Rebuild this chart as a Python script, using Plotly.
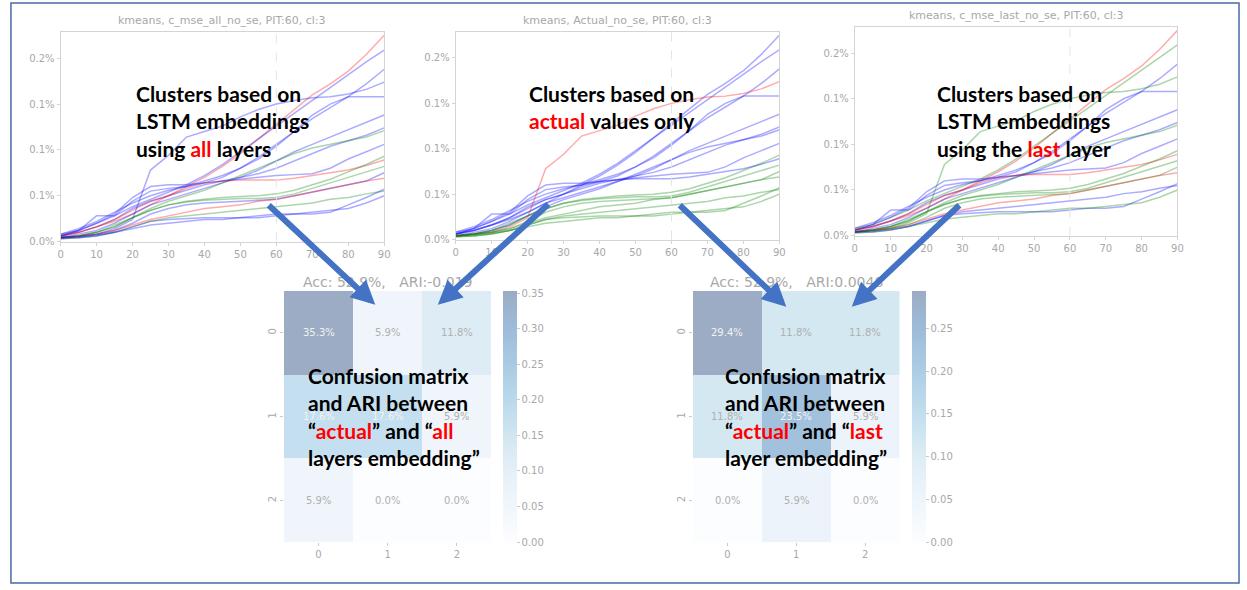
import plotly.graph_objects as go

W, H = 1247, 590

# Time axis shared by every series (days after the start)
days = [0, 5, 10, 15, 20, 25, 30, 35, 40, 45, 50, 55, 60, 65, 70, 75, 80, 85, 90]

# Cumulative values (%) for the 17 series
s_a = [0.006, 0.010, 0.016, 0.022, 0.030, 0.040, 0.050, 0.060, 0.070, 0.082, 0.096, 0.112, 0.128, 0.145, 0.160, 0.172, 0.186, 0.204, 0.225]
s_b = [0.008, 0.012, 0.020, 0.028, 0.038, 0.046, 0.054, 0.062, 0.072, 0.084, 0.098, 0.112, 0.126, 0.140, 0.154, 0.168, 0.182, 0.196, 0.209]
s_c = [0.006, 0.012, 0.028, 0.028, 0.044, 0.055, 0.058, 0.060, 0.064, 0.070, 0.080, 0.092, 0.106, 0.120, 0.134, 0.146, 0.158, 0.172, 0.188]
s_d = [0.008, 0.014, 0.022, 0.032, 0.042, 0.050, 0.056, 0.060, 0.066, 0.072, 0.080, 0.090, 0.104, 0.120, 0.138, 0.150, 0.158, 0.158, 0.158]
s_e = [0.004, 0.008, 0.012, 0.020, 0.030, 0.040, 0.046, 0.052, 0.058, 0.064, 0.070, 0.078, 0.088, 0.098, 0.106, 0.114, 0.122, 0.130, 0.138]
s_f = [0.006, 0.010, 0.016, 0.024, 0.036, 0.044, 0.050, 0.056, 0.062, 0.066, 0.070, 0.074, 0.080, 0.088, 0.096, 0.104, 0.110, 0.116, 0.124]
s_g = [0.004, 0.006, 0.010, 0.016, 0.026, 0.036, 0.044, 0.050, 0.056, 0.064, 0.072, 0.080, 0.088, 0.096, 0.102, 0.106, 0.110, 0.114, 0.121]
s_h = [0.006, 0.012, 0.020, 0.030, 0.048, 0.060, 0.062, 0.062, 0.064, 0.066, 0.068, 0.070, 0.072, 0.073, 0.074, 0.080, 0.090, 0.098, 0.106]
s_i = [0.006, 0.010, 0.016, 0.024, 0.034, 0.044, 0.050, 0.058, 0.064, 0.066, 0.067, 0.067, 0.067, 0.069, 0.072, 0.075, 0.078, 0.083, 0.089]
s_j = [0.005, 0.006, 0.008, 0.014, 0.024, 0.078, 0.094, 0.114, 0.120, 0.126, 0.136, 0.144, 0.150, 0.154, 0.157, 0.158, 0.161, 0.166, 0.174]
s_k = [0.004, 0.006, 0.010, 0.016, 0.026, 0.034, 0.040, 0.044, 0.046, 0.048, 0.049, 0.050, 0.052, 0.056, 0.062, 0.068, 0.076, 0.084, 0.093]
s_l = [0.004, 0.006, 0.010, 0.018, 0.026, 0.034, 0.040, 0.043, 0.045, 0.046, 0.047, 0.047, 0.048, 0.052, 0.058, 0.064, 0.070, 0.076, 0.082]
s_m = [0.004, 0.005, 0.008, 0.012, 0.020, 0.030, 0.036, 0.040, 0.042, 0.043, 0.044, 0.045, 0.046, 0.050, 0.054, 0.058, 0.062, 0.066, 0.075]
s_n = [0.004, 0.006, 0.008, 0.012, 0.018, 0.024, 0.028, 0.032, 0.036, 0.038, 0.040, 0.044, 0.046, 0.050, 0.054, 0.058, 0.062, 0.066, 0.069]
s_o = [0.004, 0.005, 0.007, 0.010, 0.016, 0.022, 0.024, 0.025, 0.026, 0.026, 0.026, 0.026, 0.028, 0.030, 0.030, 0.032, 0.040, 0.048, 0.057]
s_p = [0.003, 0.004, 0.006, 0.010, 0.016, 0.022, 0.026, 0.028, 0.030, 0.032, 0.034, 0.036, 0.038, 0.040, 0.042, 0.046, 0.048, 0.052, 0.055]
s_q = [0.003, 0.004, 0.006, 0.010, 0.014, 0.018, 0.020, 0.022, 0.024, 0.024, 0.026, 0.028, 0.030, 0.030, 0.032, 0.034, 0.036, 0.042, 0.050]
series = [s_a, s_b, s_c, s_d, s_e, s_f, s_g, s_h, s_i, s_j, s_k, s_l, s_m, s_n, s_o, s_p, s_q]

# Cluster id of each series under the three clusterings
labels_all    = [2, 0, 0, 0, 0, 0, 1, 0, 2, 0, 1, 1, 0, 2, 0, 1, 0]
labels_actual = [0, 0, 0, 0, 0, 0, 0, 0, 0, 2, 1, 1, 1, 1, 1, 1, 1]
labels_last   = [2, 1, 0, 0, 0, 0, 1, 0, 2, 1, 1, 1, 1, 2, 0, 0, 1]

panel_titles = ["kmeans, c_mse_all_no_se, PIT:60, cl:3",
                "kmeans, Actual_no_se, PIT:60, cl:3",
                "kmeans, c_mse_last_no_se, PIT:60, cl:3"]

y_tick_vals = [0.0, 0.05, 0.10, 0.15, 0.20]
y_tick_text = ["0.0%", "0.1%", "0.1%", "0.1%", "0.2%"]
x_tick_vals = [0, 10, 20, 30, 40, 50, 60, 70, 80, 90]

# Confusion matrices (%), rows = actual cluster, columns = embedding cluster
conf_all  = [[35.3, 5.9, 11.8], [17.6, 17.6, 5.9], [5.9, 0.0, 0.0]]
conf_last = [[29.4, 11.8, 11.8], [11.8, 23.5, 5.9], [0.0, 5.9, 0.0]]
conf_titles = ["Acc: 52.9%,   ARI:-0.019", "Acc: 52.9%,   ARI:0.0048"]
cell_ticks = ["0", "1", "2"]

CLUSTER_COLORS = ["rgba(0,0,255,0.33)", "rgba(0,128,0,0.33)", "rgba(255,0,0,0.33)"]
TXT = "#a8a8a8"


# Layout is designed on the 1247x590 pixel grid and expressed as paper fractions
def px(x):
    return x / W


def py(y):
    return 1 - y / H


# Faded matplotlib "Blues"
blues = [(247, 251, 255), (222, 235, 247), (198, 219, 239), (158, 202, 225), (107, 174, 214),
         (66, 146, 198), (33, 113, 181), (8, 81, 156), (8, 48, 107)]
alpha = 0.4
cscale = []
for i, (r, g, b) in enumerate(blues):
    f = lambda c: round(alpha * c + (1 - alpha) * 255)
    cscale.append([i / (len(blues) - 1), f"rgb({f(r)},{f(g)},{f(b)})"])

fig = go.Figure()

# Line panels: (left, right, top, bottom) in pixels
line_boxes = [(58, 384, 32, 244), (456, 782, 32, 242), (858, 1183, 27, 238)]
panel_labels = [labels_all, labels_actual, labels_last]
tick_font = dict(family="DejaVu Sans", size=10, color=TXT)

layout = {}
annotations = []
shapes = []
for p, ((l, r, t, b), labs) in enumerate(zip(line_boxes, panel_labels)):
    n = p + 1
    xa = "x" if n == 1 else f"x{n}"
    ya = "y" if n == 1 else f"y{n}"
    for s, lab in zip(series, labs):
        fig.add_trace(go.Scatter(x=days, y=s, mode="lines", xaxis=xa, yaxis=ya,
                                 line=dict(color=CLUSTER_COLORS[lab], width=1.5),
                                 showlegend=False, hoverinfo="skip"))
    common = dict(showline=True, mirror=True, linecolor="#d4d4d4", linewidth=1,
                  showgrid=False, zeroline=False, ticks="outside", ticklen=3,
                  tickcolor="#d4d4d4", tickfont=tick_font)
    layout[f"xaxis{'' if n == 1 else n}"] = dict(domain=[px(l), px(r)], anchor=ya, range=[0, 90],
                                                 tickvals=x_tick_vals, **common)
    layout[f"yaxis{'' if n == 1 else n}"] = dict(domain=[py(b), py(t)], anchor=xa, range=[0, 0.229],
                                                 tickvals=y_tick_vals, ticktext=y_tick_text, **common)
    shapes.append(dict(type="line", xref=xa, yref=f"{ya} domain", x0=60, x1=60, y0=0, y1=1,
                       line=dict(color="#e4e4e4", width=1, dash="dash")))
    annotations.append(dict(text=panel_titles[p], xref="paper", yref="paper",
                            x=px((l + r) / 2), y=py(t - 11), showarrow=False,
                            xanchor="center", yanchor="middle",
                            font=dict(family="DejaVu Sans", size=11, color=TXT)))

# Confusion-matrix heatmaps: (left, right, top, bottom, colorbar left)
heat_boxes = [(283, 492, 294, 548, 504), (695, 903, 294, 548, 916)]
for k, (mat, (l, r, t, b, cbx)) in enumerate(zip([conf_all, conf_last], heat_boxes)):
    n = 4 + k
    xa, ya = f"x{n}", f"y{n}"
    z = [[v / 100 for v in row] for row in mat]
    zmax = max(max(row) for row in z)
    cb_ticks = [v / 100 for v in range(0, 36, 5) if v / 100 <= zmax + 1e-9]
    fig.add_trace(go.Heatmap(z=z, x=[0, 1, 2], y=[0, 1, 2], xaxis=xa, yaxis=ya,
                             zmin=0, zmax=zmax, colorscale=cscale, hoverinfo="skip",
                             colorbar=dict(x=px(cbx), xanchor="left", xpad=0,
                                           y=py(t), yanchor="top", ypad=0,
                                           len=(b - t) / H, lenmode="fraction",
                                           thickness=14, thicknessmode="pixels",
                                           outlinewidth=0, ticks="outside", ticklen=3,
                                           tickcolor="#c8c8c8", tickvals=cb_ticks,
                                           ticktext=[f"{v:.2f}" for v in cb_ticks],
                                           tickfont=tick_font)))
    axc = dict(showline=False, showgrid=False, zeroline=False, ticks="outside", ticklen=3,
               tickcolor="#c8c8c8", tickfont=tick_font, tickvals=[0, 1, 2], ticktext=cell_ticks)
    layout[f"xaxis{n}"] = dict(domain=[px(l), px(r)], anchor=ya, range=[-0.5, 2.5], **axc)
    layout[f"yaxis{n}"] = dict(domain=[py(b), py(t)], anchor=xa, range=[2.5, -0.5],
                               tickangle=-90, **axc)
    for i, row in enumerate(mat):
        for j, v in enumerate(row):
            col = "#f2f2f2" if v / 100 > zmax * 0.45 else "#b0b0b0"
            annotations.append(dict(text=f"{v:.1f}%", xref=xa, yref=ya, x=j, y=i,
                                    showarrow=False,
                                    font=dict(family="DejaVu Sans", size=10, color=col)))
    annotations.append(dict(text=conf_titles[k], xref="paper", yref="paper",
                            x=px((l + r) / 2), y=py(285), showarrow=False,
                            xanchor="center", yanchor="middle",
                            font=dict(family="DejaVu Sans", size=14, color=TXT)))

RED = "<span style='color:#ff0000'>{}</span>"
callouts = [
    (132, 122, f"Clusters based on<br>LSTM embeddings<br>using {RED.format('all')} layers"),
    (528, 108, f"Clusters based on<br>{RED.format('actual')} values only"),
    (939, 122, f"Clusters based on<br>LSTM embeddings<br>using the {RED.format('last')} layer"),
    (305, 421, f"Confusion matrix<br>and ARI between<br>“{RED.format('actual')}” and “{RED.format('all')}<br>layers embedding”"),
    (725, 421, f"Confusion matrix<br>and ARI between<br>“{RED.format('actual')}” and “{RED.format('last')}<br>layer embedding”"),
]
for x, y, txt in callouts:
    annotations.append(dict(text=f"<b>{txt}</b>", xref="paper", yref="paper", x=px(x), y=py(y),
                            xanchor="left", yanchor="middle", align="left", showarrow=False,
                            font=dict(family="Lato", size=21, color="black")))

# Arrows from the cluster panels to the matrices: (tail_x, tail_y, tip_x, tip_y)
arrows = [(267, 207, 375, 308), (550, 206, 438, 308), (681, 207, 789, 310), (964, 207, 855, 310)]
for x0, y0, x1, y1 in arrows:
    annotations.append(dict(text="", xref="paper", yref="paper", x=px(x1), y=py(y1),
                            ax=x0 - x1, ay=y0 - y1, axref="pixel", ayref="pixel",
                            showarrow=True, arrowhead=2, arrowsize=0.8, arrowwidth=6,
                            arrowcolor="#4472C4", standoff=0))

# Outer frame
shapes.append(dict(type="rect", xref="paper", yref="paper", x0=px(8), x1=px(1245),
                   y0=py(589), y1=py(3), line=dict(color="#4a6aa8", width=1.5)))

fig.update_layout(width=W, height=H, margin=dict(l=0, r=0, t=0, b=0),
                  paper_bgcolor="white", plot_bgcolor="white",
                  annotations=annotations, shapes=shapes, **layout)

fig.write_html("out.html")
